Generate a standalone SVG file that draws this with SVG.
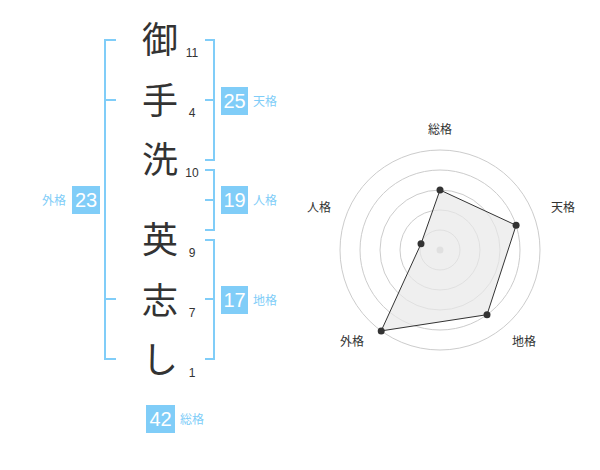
<svg xmlns="http://www.w3.org/2000/svg" width="600" height="470" viewBox="0 0 600 470">
<style>
.ch{font-family:"Noto Sans CJK JP","Noto Sans CJK SC",sans-serif;font-size:36px;fill:#333;text-anchor:middle}
.num{font-family:"Liberation Sans",Arial,sans-serif;font-size:12px;fill:#333;text-anchor:middle}
.br{fill:none;stroke:#80cdf8;stroke-width:2}
.box{fill:#80cdf8}
.bt{font-family:"Liberation Sans",Arial,sans-serif;font-size:20px;fill:#fff;text-anchor:middle}
.bl{font-family:"Noto Sans CJK JP","Noto Sans CJK SC",sans-serif;font-size:12px;fill:#80cdf8}
.ring{fill:none;stroke:#ccc;stroke-width:1}
.rl{font-family:"Noto Sans CJK JP","Noto Sans CJK SC",sans-serif;font-size:12px;fill:#333;text-anchor:middle}
</style>
<rect width="600" height="470" fill="#fff"/>
<g id="name">
<text class="ch" x="160" y="53">御</text>
<text class="ch" x="160" y="114">手</text>
<text class="ch" x="160" y="173">洗</text>
<text class="ch" x="160" y="253">英</text>
<text class="ch" x="160" y="314">志</text>
<text class="ch" x="160" y="373">し</text>
<text class="num" x="192" y="57">11</text>
<text class="num" x="192" y="117">4</text>
<text class="num" x="192" y="177">10</text>
<text class="num" x="192" y="257">9</text>
<text class="num" x="192" y="317">7</text>
<text class="num" x="192" y="377">1</text>
</g>
<g id="connectors">
<path class="br" d="M116,40 H105 V359 H116 M105,100 H116 M105,299 H116"/>
<path class="br" d="M205,40 H214 V160 H205 M205,100 H214"/>
<path class="br" d="M205,170 H214 V230 H205 M205,200 H214"/>
<path class="br" d="M205,240 H214 V359 H205 M205,299 H214"/>
</g>
<g id="tenkaku">
<rect class="box" x="221" y="87" width="27" height="28"/>
<text class="bt" x="234.5" y="108">25</text>
<text class="bl" x="253" y="106">天格</text>
</g>
<g id="jinkaku">
<rect class="box" x="221" y="186" width="27" height="28"/>
<text class="bt" x="234.5" y="207">19</text>
<text class="bl" x="253" y="205">人格</text>
</g>
<g id="chikaku">
<rect class="box" x="221" y="286" width="27" height="28"/>
<text class="bt" x="234.5" y="307">17</text>
<text class="bl" x="253" y="305">地格</text>
</g>
<g id="gaikaku">
<rect class="box" x="72" y="186" width="28" height="28"/>
<text class="bt" x="86" y="207">23</text>
<text class="bl" x="66" y="205" text-anchor="end">外格</text>
</g>
<g id="soukaku">
<rect class="box" x="146" y="405" width="29" height="28"/>
<text class="bt" x="160.5" y="426">42</text>
<text class="bl" x="180" y="424">総格</text>
</g>
<g id="radar">
<circle class="ring" cx="440" cy="250" r="20"/>
<circle class="ring" cx="440" cy="250" r="40"/>
<circle class="ring" cx="440" cy="250" r="60"/>
<circle class="ring" cx="440" cy="250" r="80"/>
<circle class="ring" cx="440" cy="250" r="100"/>
<circle cx="440" cy="250" r="3.5" fill="#ccc"/>
<polygon points="440,190 516.1,225.3 487,314.7 381.2,330.9 421,243.8" fill="#e8e8e8" fill-opacity="0.7" stroke="#333" stroke-width="1"/>
<g fill="#333">
<circle cx="440" cy="190" r="3.5"/>
<circle cx="516.1" cy="225.3" r="3.5"/>
<circle cx="487" cy="314.7" r="3.5"/>
<circle cx="381.2" cy="330.9" r="3.5"/>
<circle cx="421" cy="243.8" r="3.5"/>
</g>
<text class="rl" x="440" y="134">総格</text>
<text class="rl" x="563" y="212">天格</text>
<text class="rl" x="524" y="346">地格</text>
<text class="rl" x="352" y="346">外格</text>
<text class="rl" x="319" y="212">人格</text>
</g>
</svg>
